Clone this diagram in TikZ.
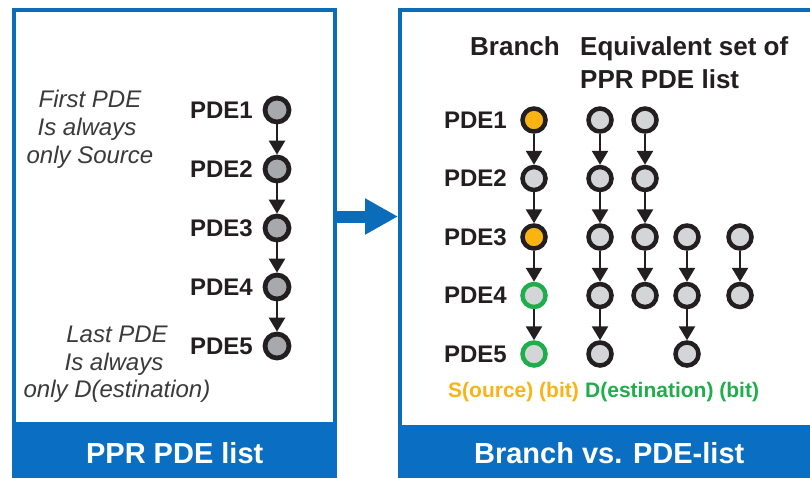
\documentclass[tikz,border=0pt]{standalone}
\usepackage{fontspec}
\setmainfont{Liberation Sans}
\usetikzlibrary{arrows.meta}
\definecolor{frameblue}{HTML}{0B6DB9}
\definecolor{barblue}{HTML}{0A6EC2}
\definecolor{ink}{HTML}{231F20}
\definecolor{txtgray}{HTML}{3A3A3A}
\definecolor{darkfill}{HTML}{A7A9AC}
\definecolor{lightfill}{HTML}{D4D5D7}
\definecolor{srcorange}{HTML}{F9B414}
\definecolor{dstgreen}{HTML}{1FAE4B}
\begin{document}
\begin{tikzpicture}[x=1pt,y=-1pt,
  panel/.style={draw=frameblue, line width=4pt, fill=white, inner sep=0pt, rectangle},
  bar/.style={fill=barblue, inner sep=0pt, text=white, font=\fontsize{29}{34}\selectfont\bfseries},
  pdelabel/.style={anchor=east, text=ink, font=\fontsize{24}{28}\selectfont\bfseries, inner sep=0pt},
  note/.style={anchor=base, text=txtgray, font=\fontsize{24}{28}\selectfont\itshape, inner sep=0pt},
  head/.style={anchor=base west, text=ink, font=\fontsize{26}{30}\selectfont\bfseries, inner sep=0pt},
  bitlabel/.style={anchor=base west, font=\fontsize{21}{25}\selectfont\bfseries, inner sep=0pt},
  pdeL/.style={circle, draw=ink, line width=4.8pt, fill=darkfill, minimum size=24pt, inner sep=0pt},
  pdeR/.style={circle, draw=ink, line width=4.5pt, fill=lightfill, minimum size=23pt, inner sep=0pt},
  srcnode/.style={pdeR, fill=srcorange},
  dstnode/.style={pdeR, draw=dstgreen},
  link/.style={draw=ink, line width=2.6pt, -{Triangle[length=14pt,width=16pt]}},
  bigarrow/.style={draw=frameblue, line width=12pt, -{Triangle[length=33pt,width=34pt]}}
]
\useasboundingbox (0,0) rectangle (810,477);

% the two panels
\node[panel, anchor=north west, minimum width=321pt, minimum height=480pt] (lp) at (12,8) {};
\node[panel, anchor=north west, minimum width=430pt, minimum height=480pt] (rp) at (398,8) {};
\node[bar, anchor=north west, minimum width=325pt, minimum height=62pt] (lbar) at (12,422) {PPR PDE list};
\node[bar, anchor=north west, minimum width=422pt, minimum height=56pt] (rbar) at (398,425) {Branch vs. PDE-list};

% arrow between panels
\coordinate (ay) at (0,216.5);
\draw[bigarrow] (lp.east |- ay) -- (rp.west |- ay);

% left panel: PPR PDE list
\foreach \i/\y in {1/110,2/169,3/228,4/287,5/346}{
  \node[pdeL] (L\i) at (277,\y) {};
  \node[pdelabel] (lt\i) at (253,\y) {PDE\i};
}
\draw[link] (L1) -- (L2);
\draw[link] (L2) -- (L3);
\draw[link] (L3) -- (L4);
\draw[link] (L4) -- (L5);

\node[note] (fa) at (90,107) {First PDE};
\node[note] (fb) at (87,135) {Is always};
\node[note] (fc) at (90,163) {only Source};
\node[note] (la) at (117,342) {Last PDE};
\node[note] (lb) at (114,370) {Is always};
\node[note] (lc) at (117,397) {only D(estination)};

% right panel: branch vs. PDE lists
\node[head] (hb) at (470,55) {Branch};
\node[head] (he) at (580,55) {Equivalent set of};
\node[head] (hp) at (580,88) {PPR PDE list};

\foreach \i/\y in {1/120,2/178.5,3/237,4/295.5,5/354}{
  \node[pdelabel] (rt\i) at (507,\y) {PDE\i};
}
\node[srcnode] (B1) at (534,120) {};
\node[pdeR]    (B2) at (534,178.5) {};
\node[srcnode] (B3) at (534,237) {};
\node[dstnode] (B4) at (534,295.5) {};
\node[dstnode] (B5) at (534,354) {};
\draw[link] (B1) -- (B2);
\draw[link] (B2) -- (B3);
\draw[link] (B3) -- (B4);
\draw[link] (B4) -- (B5);

% equivalent lists
\foreach \i/\y in {1/120,2/178.5,3/237,4/295.5,5/354}{
  \node[pdeR] (P\i) at (600,\y) {};
}
\foreach \i/\y in {1/120,2/178.5,3/237,4/295.5}{
  \node[pdeR] (Q\i) at (645,\y) {};
}
\foreach \i/\y in {3/237,4/295.5,5/354}{
  \node[pdeR] (R\i) at (687,\y) {};
}
\foreach \i/\y in {3/237,4/295.5}{
  \node[pdeR] (S\i) at (740,\y) {};
}
\draw[link] (P1) -- (P2);
\draw[link] (P2) -- (P3);
\draw[link] (P3) -- (P4);
\draw[link] (P4) -- (P5);
\draw[link] (Q1) -- (Q2);
\draw[link] (Q2) -- (Q3);
\draw[link] (Q3) -- (Q4);
\draw[link] (R3) -- (R4);
\draw[link] (R4) -- (R5);
\draw[link] (S3) -- (S4);

\node[bitlabel, text=srcorange] (sb) at (448,397) {S(ource) (bit)};
\node[bitlabel, text=dstgreen] (db) at (585,397) {D(estination) (bit)};
\end{tikzpicture}
\end{document}
